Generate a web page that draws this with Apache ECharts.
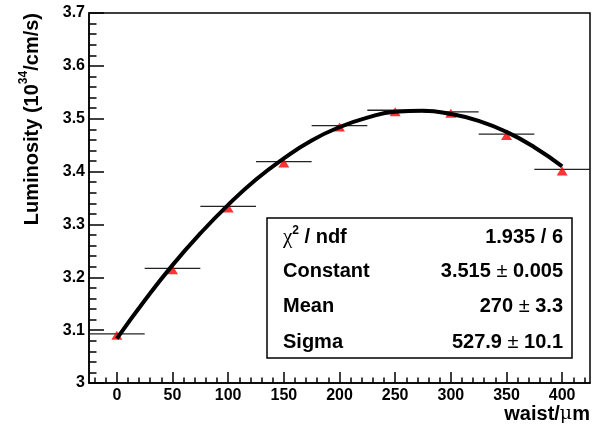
<!DOCTYPE html>
<html><head><meta charset="utf-8">
<script src="https://cdn.jsdelivr.net/npm/echarts@6/dist/echarts.min.js"></script>
<style>html,body{margin:0;padding:0;background:#fff}#c{width:592px;height:430px}</style>
</head><body><div id="c"></div>
<script>
// ---- data ----
const waist = [0, 50, 100, 150, 200, 250, 300, 350, 400];
const lumi = [3.093, 3.217, 3.334, 3.419, 3.487, 3.516, 3.513, 3.471, 3.404];
const waistErr = [25, 25, 25, 25, 25, 25, 25, 25, 25];
// fitted curve (gaussian fit as drawn)
const fitX = [0, 25, 50, 75, 100, 125, 150, 175, 200, 225, 250, 275, 300, 325, 350, 375, 400];
const fitY = [3.084, 3.156, 3.223, 3.283, 3.337, 3.385, 3.425, 3.459, 3.484, 3.502, 3.513, 3.515, 3.509, 3.496, 3.475, 3.446, 3.410];
const xTickLabels = [0, 50, 100, 150, 200, 250, 300, 350, 400];
const statNames = ['Constant', 'Mean', 'Sigma'];
const statValues = [['3.515', '0.005'], ['270', '3.3'], ['527.9', '10.1']];
const chi2Text = '1.935 / 6';

const xMinor = [];
for (let v = -20; v <= 420; v += 10) { if (v % 50 !== 0) xMinor.push(v); }

const FONT = 'Liberation Sans, Arial, Helvetica, sans-serif';
const chart = echarts.init(document.getElementById('c'), null, {renderer: 'canvas'});

const errData = waist.map((x, i) => [x, lumi[i], waistErr[i]]);
const fitData = fitX.map((x, i) => [x, fitY[i]]);
const ptData = waist.map((x, i) => [x, lumi[i]]);

const box = {x: 267, y: 218, w: 305, h: 140};
const rowY = [237, 271, 306, 342];
const graphic = [
  {type: 'text', x: 30, y: 13, rotation: Math.PI / 2, z: 10,
   style: {text: '{b|Luminosity (10}{s|34}{b|/cm/s)}', align: 'right', verticalAlign: 'middle',
     rich: {b: {fontFamily: FONT, fontWeight: 'bold', fontSize: 20, fill: '#000', lineHeight: 24, verticalAlign: 'bottom'},
            s: {fontFamily: FONT, fontWeight: 'bold', fontSize: 12, fill: '#000', lineHeight: 24, verticalAlign: 'top'}}}},
  {type: 'text', x: 590, y: 414, z: 10,
   style: {text: '{b|waist/}{m|μ}{b|m}', align: 'right', verticalAlign: 'middle',
     rich: {b: {fontFamily: FONT, fontWeight: 'bold', fontSize: 20, fill: '#000'},
            m: {fontFamily: 'DejaVu Serif, Liberation Serif, serif', fontSize: 19, fill: '#000'}}}},
  {type: 'rect', z: 20, shape: {x: box.x, y: box.y, width: box.w, height: box.h},
   style: {fill: '#fff', stroke: '#000', lineWidth: 1.5}},
  {type: 'text', x: 283, y: rowY[0], z: 21,
   style: {text: '{c|χ}{s|2}{b| / ndf}', align: 'left', verticalAlign: 'middle',
     rich: {c: {fontFamily: 'Liberation Serif, serif', fontSize: 21, fill: '#000', lineHeight: 24},
            s: {fontFamily: FONT, fontWeight: 'bold', fontSize: 12, fill: '#000', verticalAlign: 'top', lineHeight: 24},
            b: {fontFamily: FONT, fontWeight: 'bold', fontSize: 20, fill: '#000', lineHeight: 24}}}},
  {type: 'text', x: 563, y: rowY[0], z: 21,
   style: {text: chi2Text, align: 'right', verticalAlign: 'middle', fontFamily: FONT, fontWeight: 'bold', fontSize: 20, fill: '#000'}}
];
statNames.forEach((n, i) => {
  graphic.push({type: 'text', x: 283, y: rowY[i + 1], z: 21,
    style: {text: n, align: 'left', verticalAlign: 'middle', fontFamily: FONT, fontWeight: 'bold', fontSize: 20, fill: '#000'}});
  graphic.push({type: 'text', x: 563, y: rowY[i + 1], z: 21,
    style: {text: '{b|' + statValues[i][0] + ' }{p|±}{b| ' + statValues[i][1] + '}', align: 'right', verticalAlign: 'middle',
      rich: {b: {fontFamily: FONT, fontWeight: 'bold', fontSize: 20, fill: '#000'},
             p: {fontFamily: FONT, fontSize: 20, fill: '#000'}}}});
});

chart.setOption({
  animation: false,
  backgroundColor: '#fff',
  grid: {left: 89, right: 2, top: 13, bottom: 47, show: true, borderColor: '#000', borderWidth: 1.5, backgroundColor: 'transparent'},
  xAxis: [
    {type: 'value', min: -25, max: 425, position: 'bottom',
     axisLine: {show: true, onZero: false, lineStyle: {color: '#000', width: 1.5}},
     axisTick: {show: true, inside: true, length: 11, customValues: xTickLabels, lineStyle: {color: '#000', width: 1.5}},
     axisLabel: {show: true, customValues: xTickLabels, margin: 5, color: '#000', fontFamily: FONT, fontWeight: 'bold', fontSize: 16},
     splitLine: {show: false}},
    {type: 'value', min: -25, max: 425, position: 'bottom',
     axisLine: {show: false, onZero: false},
     axisTick: {show: true, inside: true, length: 5.5, customValues: xMinor, lineStyle: {color: '#000', width: 1.5}},
     axisLabel: {show: false}, splitLine: {show: false}}
  ],
  yAxis: {type: 'value', min: 3, max: 3.7, interval: 0.1,
    axisLine: {show: true, onZero: false, lineStyle: {color: '#000', width: 1.5}},
    axisTick: {show: true, inside: true, length: 15, lineStyle: {color: '#000', width: 1.5}},
    minorTick: {show: true, splitNumber: 5, length: 7.5, lineStyle: {color: '#000', width: 1.5}},
    axisLabel: {margin: 4, color: '#000', fontFamily: FONT, fontWeight: 'bold', fontSize: 16,
      formatter: v => String(Math.round(v * 10) / 10)},
    splitLine: {show: false}},
  graphic: graphic,
  series: [
    {type: 'custom', xAxisIndex: 0, z: 2, data: errData,
     renderItem: (params, api) => {
       const x = api.value(0), y = api.value(1), e = api.value(2);
       const p1 = api.coord([x - e, y]), p2 = api.coord([x + e, y]);
       return {type: 'line', shape: {x1: p1[0], y1: p1[1], x2: p2[0], y2: p2[1]},
               style: {stroke: '#222', lineWidth: 1.3}};
     }},
    {type: 'scatter', xAxisIndex: 0, z: 3, data: ptData, symbol: 'triangle', symbolSize: [11, 9], symbolOffset: [0, 1.5],
     itemStyle: {color: '#ff0000'}},
    {type: 'line', xAxisIndex: 0, z: 4, data: fitData, smooth: true, showSymbol: false,
     lineStyle: {color: '#000', width: 4}}
  ]
});
</script></body></html>
